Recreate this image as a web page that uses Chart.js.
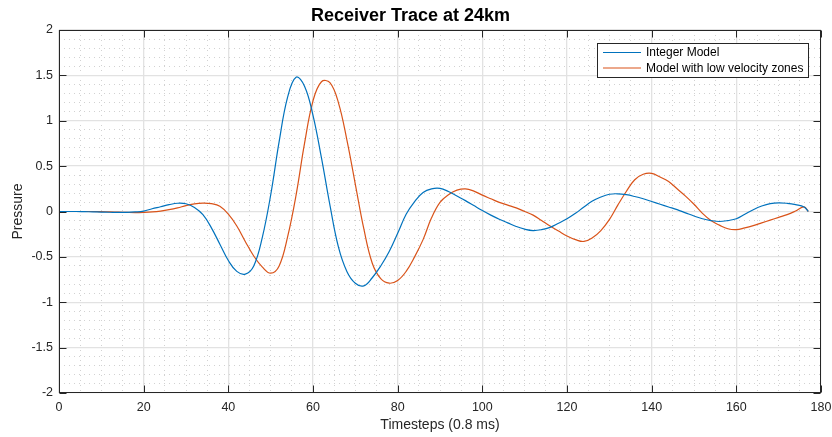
<!DOCTYPE html>
<html>
<head>
<meta charset="utf-8">
<script src="https://cdn.jsdelivr.net/npm/chart.js@4"></script>
<style>
  html, body { margin: 0; padding: 0; background: #fff; }
  #wrap { width: 832px; height: 437px; }
</style>
</head>
<body>
<div id="wrap"><canvas id="trace_chart"></canvas></div>
<script>
const timesteps = [
  0, 2, 4, 6, 8, 10, 12, 14, 16, 18, 20, 22, 24, 26, 28, 30, 32, 34, 36, 38,
  40, 42, 44, 46, 48, 50, 52, 54, 56, 58, 60, 62, 64, 66, 68, 70, 72, 74, 76, 78,
  80, 82, 84, 86, 88, 90, 92, 94, 96, 98, 100, 102, 104, 106, 108, 110, 112, 114, 116, 118,
  120, 122, 124, 126, 128, 130, 132, 134, 136, 138, 140, 142, 144, 146, 148, 150, 152, 154, 156, 158,
  160, 162, 164, 166, 168, 170, 172, 174, 176, 177
];

const integer_model = [
  0, 0, 0, -0.002, -0.004, -0.006, -0.008, -0.01, -0.01, -0.005,
  0.005, 0.03, 0.052, 0.075, 0.091, 0.085, 0.045, -0.035, -0.18, -0.36,
  -0.54, -0.66, -0.69, -0.6, -0.29, 0.18, 0.77, 1.26, 1.48, 1.38,
  1.06, 0.59, 0.07, -0.39, -0.66, -0.79, -0.82, -0.73, -0.6, -0.44,
  -0.24, -0.03, 0.11, 0.21, 0.25, 0.255, 0.22, 0.17, 0.12, 0.065,
  0.01, -0.04, -0.085, -0.125, -0.165, -0.195, -0.21, -0.2, -0.175, -0.13,
  -0.08, -0.02, 0.05, 0.115, 0.16, 0.19, 0.195, 0.185, 0.165, 0.14,
  0.11, 0.08, 0.05, 0.02, -0.015, -0.05, -0.08, -0.1, -0.11, -0.1,
  -0.08, -0.03, 0.02, 0.06, 0.087, 0.096, 0.09, 0.075, 0.05, 0.0
];

const low_velocity_model = [
  0, 0, 0, 0, 0, -0.002, -0.004, -0.007, -0.01, -0.012,
  -0.01, -0.005, 0.005, 0.02, 0.04, 0.065, 0.085, 0.092, 0.086, 0.057,
  -0.03, -0.16, -0.33, -0.49, -0.61, -0.68, -0.6, -0.28, 0.18, 0.75,
  1.22, 1.43, 1.42, 1.2, 0.79, 0.3, -0.19, -0.57, -0.74, -0.79,
  -0.76, -0.66, -0.5, -0.31, -0.07, 0.1, 0.185, 0.235, 0.25, 0.225,
  0.18, 0.14, 0.1, 0.07, 0.04, 0.0, -0.04, -0.1, -0.16, -0.215,
  -0.27, -0.31, -0.33, -0.29, -0.21, -0.09, 0.07, 0.22, 0.35, 0.41,
  0.42, 0.38, 0.33, 0.25, 0.17, 0.08, -0.02, -0.1, -0.15, -0.19,
  -0.2, -0.18, -0.155, -0.125, -0.095, -0.065, -0.035, 0.005, 0.05, 0.0
];

const x_tick_labels = [0, 20, 40, 60, 80, 100, 120, 140, 160, 180];
const y_tick_labels = [-2, -1.5, -1, -0.5, 0, 0.5, 1, 1.5, 2];
const series_names = ["Integer Model", "Model with low velocity zones"];
const series_colors = ["#0072BD", "#D95319"];

const font_family = "'Liberation Sans', Arial, Helvetica, sans-serif";
const axis_color = "#262626";

const is_major = (value, list) => list.some((t) => Math.abs(t - value) < 1e-6);

const to_points = (values) => values.map((v, i) => ({ x: timesteps[i], y: v }));

// box round the axes, inward ticks on all four sides, and the legend box
const frame_plugin = {
  id: "frame",
  afterDraw: (chart) => {
    const { ctx, chartArea: a, scales } = chart;
    const left = Math.round(a.left) + 0.5;
    const right = Math.round(a.right) - 0.5;
    const top = Math.round(a.top) + 0.5;
    const bottom = Math.round(a.bottom) - 0.5;
    const tick_len = 7;
    ctx.save();
    ctx.strokeStyle = axis_color;
    ctx.lineWidth = 1;
    ctx.strokeRect(left, top, right - left, bottom - top);
    ctx.beginPath();
    x_tick_labels.forEach((t) => {
      const px = Math.round(scales.x.getPixelForValue(t)) + 0.5;
      ctx.moveTo(px, bottom); ctx.lineTo(px, bottom - tick_len);
      ctx.moveTo(px, top); ctx.lineTo(px, top + tick_len);
    });
    y_tick_labels.forEach((t) => {
      const py = Math.round(scales.y.getPixelForValue(t)) + 0.5;
      ctx.moveTo(left, py); ctx.lineTo(left + tick_len, py);
      ctx.moveTo(right, py); ctx.lineTo(right - tick_len, py);
    });
    ctx.stroke();

    // legend
    const lx = 597.5, ly = 43.5, lw = 211, lh = 34;
    ctx.fillStyle = "#ffffff";
    ctx.fillRect(lx, ly, lw, lh);
    ctx.strokeStyle = axis_color;
    ctx.strokeRect(lx, ly, lw, lh);
    ctx.font = "12px " + font_family;
    ctx.textBaseline = "middle";
    ctx.textAlign = "left";
    chart.data.datasets.forEach((ds, i) => {
      const row_y = 52.5 + i * 15.5;
      ctx.strokeStyle = ds.borderColor;
      ctx.lineWidth = 1.2;
      ctx.beginPath();
      ctx.moveTo(603, row_y);
      ctx.lineTo(641, row_y);
      ctx.stroke();
      ctx.fillStyle = "#000000";
      ctx.fillText(ds.label, 646, row_y + 0.5);
    });
    ctx.restore();
  },
};

const grid_opts = (list) => ({
  drawTicks: false,
  tickLength: 0,
  lineWidth: (c) => (c.tick && is_major(c.tick.value, list) ? 1.3 : 1),
  color: (c) => (c.tick && is_major(c.tick.value, list) ? "#e2e2e2" : "#d2d2d2"),
});

const border_opts = (list) => ({
  display: false,
  dash: (c) => (c.tick && is_major(c.tick.value, list) ? [] : [1, 4]),
});

const config_trace = {
  type: "line",
  data: {
    datasets: [
      {
        label: series_names[0],
        data: to_points(integer_model),
        borderColor: series_colors[0],
        borderWidth: 1.2,
        pointRadius: 0,
        fill: false,
        tension: 0.4,
      },
      {
        label: series_names[1],
        data: to_points(low_velocity_model),
        borderColor: series_colors[1],
        borderWidth: 1.2,
        pointRadius: 0,
        fill: false,
        tension: 0.4,
      },
    ],
  },
  options: {
    responsive: true,
    maintainAspectRatio: false,
    animation: false,
    layout: { padding: { left: 0, right: 11, top: 0, bottom: 0 } },
    plugins: {
      legend: { display: false },
      tooltip: { enabled: false },
      title: {
        display: true,
        text: "Receiver Trace at 24km",
        color: "#000000",
        font: { family: font_family, size: 18, weight: "bold" },
        padding: { top: 5, bottom: 3.4 },
      },
    },
    scales: {
      x: {
        type: "linear",
        min: 0,
        max: 180,
        afterFit: (scale) => {
          scale.height = 44;
          scale.paddingLeft = 0;
          scale.paddingRight = 0;
        },
        ticks: {
          stepSize: 5,
          maxTicksLimit: 100,
          autoSkip: false,
          maxRotation: 0,
          minRotation: 0,
          padding: 7,
          color: axis_color,
          font: { family: font_family, size: 12.5 },
          callback: (v) => (is_major(v, x_tick_labels) ? String(Math.round(v)) : ""),
        },
        grid: grid_opts(x_tick_labels),
        border: border_opts(x_tick_labels),
        title: {
          display: true,
          text: "Timesteps (0.8 ms)",
          color: axis_color,
          font: { family: font_family, size: 14 },
          padding: { top: 0, bottom: 3.6 },
        },
      },
      y: {
        type: "linear",
        min: -2,
        max: 2,
        afterFit: (scale) => {
          scale.width = 59;
          scale.paddingTop = 0;
          scale.paddingBottom = 0;
        },
        ticks: {
          stepSize: 0.1,
          maxTicksLimit: 100,
          autoSkip: false,
          padding: 6,
          color: axis_color,
          font: { family: font_family, size: 12.5 },
          callback: (v) => (is_major(v, y_tick_labels) ? String(Number(v.toFixed(1))) : ""),
        },
        grid: grid_opts(y_tick_labels),
        border: border_opts(y_tick_labels),
        title: {
          display: true,
          text: "Pressure",
          color: axis_color,
          font: { family: font_family, size: 14 },
          padding: { top: 9.6, bottom: 0 },
        },
      },
    },
  },
  plugins: [frame_plugin],
};

var ctx_trace = document.getElementById("trace_chart");
var trace_chart = new Chart(ctx_trace, config_trace);
</script>
</body>
</html>
